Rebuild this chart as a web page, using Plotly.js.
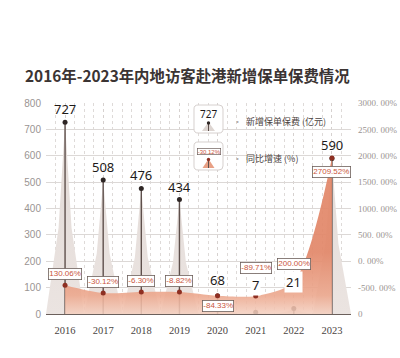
<!DOCTYPE html>
<html>
<head>
<meta charset="utf-8">
<script src="https://cdn.plot.ly/plotly-3.0.1.min.js"></script>
<style>html,body{margin:0;padding:0;background:#fff;}#chart{width:400px;height:358px;}</style>
</head>
<body>
<div id="chart"></div>
<script>
// ---- data ----
const years = [2016, 2017, 2018, 2019, 2020, 2021, 2022, 2023];
const premium = [727, 508, 476, 434, 68, 7, 21, 590];           // 新增保单保费 (亿元)
const growth = [130.06, -30.12, -6.30, -8.82, -84.33, -89.71, 200.00, 2709.52]; // 同比增速 (%)
const leftTicks = [0, 100, 200, 300, 400, 500, 600, 700, 800];
const rightTickVals = [-1000, -500, 0, 500, 1000, 1500, 2000, 2500, 3000];
const rightTickText = ['0', '-500. 00%', '0. 00%', '500. 00%', '1000. 00%', '1500. 00%', '2000. 00%', '2500. 00%', '3000. 00%'];
const titleText = '2016年-2023年内地访客赴港新增保单保费情况';
const legendPremium = '新增保单保费 (亿元)';
const legendGrowth = '同比增速 (%)';

// ---- layout geometry (styling) ----
const W = 400, H = 358;
const M = {l: 46, r: 49, t: 103, b: 44};
const y3Range = [-455, 3825];
const premShift = {2020: 16, 2021: 27, 2022: 26};
const growShift = {2020: -10, 2021: 28, 2022: 18, 2023: -14};
const whiteBgYears = [2021, 2022];

const pw = W - M.l - M.r, ph = H - M.t - M.b;
const X = px => (px - M.l) / pw;
const Y = py => (H - M.b - py) / ph;
const P = (px, py) => `${X(px).toFixed(4)},${Y(py).toFixed(4)}`;
function rrect(x0, y0, x1, y1, r) {
  return `M${P(x0 + r, y0)} L${P(x1 - r, y0)} Q${P(x1, y0)} ${P(x1, y0 + r)} L${P(x1, y1 - r)} Q${P(x1, y1)} ${P(x1 - r, y1)} L${P(x0 + r, y1)} Q${P(x0, y1)} ${P(x0, y1 - r)} L${P(x0, y0 + r)} Q${P(x0, y0)} ${P(x0 + r, y0)} Z`;
}

// spikes (concave triangles) built from data
const spX = [], spY = [];
years.forEach((yr, i) => {
  const v = premium[i];
  spX.push(yr - 0.5, yr - 0.17, yr, yr + 0.17, yr + 0.5, null);
  spY.push(0, v * 0.45, v, v * 0.45, 0, null);
});
const stX = [], stY = [];
years.forEach((yr, i) => { stX.push(yr, yr, null); stY.push(0, premium[i], null); });

const traces = [
  {type: 'scatter', mode: 'lines', x: spX, y: spY, fill: 'toself',
   fillcolor: '#e8e2df', line: {width: 0}, hoverinfo: 'skip', showlegend: false,
   fillgradient: {type: 'vertical', start: 0, stop: 760,
     colorscale: [[0, '#ebe4e1'], [1, '#e1d9d5']]}},
  {type: 'scatter', mode: 'lines', x: [years[0], years[years.length - 1]], y: [y3Range[0], y3Range[0]],
   yaxis: 'y3', line: {width: 0}, hoverinfo: 'skip', showlegend: false},
  {type: 'scatter', mode: 'lines', x: years, y: growth, yaxis: 'y3', fill: 'tonexty',
   line: {width: 0, shape: 'spline', smoothing: 0.8}, fillcolor: 'rgba(236,170,145,0.85)',
   hoverinfo: 'skip', showlegend: false,
   fillgradient: {type: 'vertical', start: y3Range[0], stop: 800,
     colorscale: [[0, 'rgba(244,208,192,0.86)'], [0.3, 'rgba(236,168,142,0.9)'], [1, 'rgba(226,136,106,0.93)']]}},
  {type: 'scatter', mode: 'lines', x: stX, y: stY, line: {color: '#5e504c', width: 1.4},
   hoverinfo: 'skip', showlegend: false},
  {type: 'scatter', mode: 'markers', x: years, y: premium, marker: {size: 5, color: '#2e2624'},
   showlegend: false},
  {type: 'scatter', mode: 'markers', x: years, y: growth, yaxis: 'y3', marker: {size: 5, color: '#8e2f22'},
   showlegend: false},
  {type: 'scatter', mode: 'markers', x: [years[0]], y: [null], yaxis: 'y2', showlegend: false, hoverinfo: 'skip'}
];

const annotations = [];
years.forEach((yr, i) => {
  annotations.push({x: yr, y: premium[i], xref: 'x', yref: 'y', text: String(premium[i]),
    showarrow: false, yshift: premShift[yr] !== undefined ? premShift[yr] : 13,
    font: {family: 'Noto Sans, Roboto, sans-serif', size: 13, color: '#1e1a19'},
    bgcolor: whiteBgYears.includes(yr) ? '#ffffff' : 'rgba(0,0,0,0)', borderpad: 1});
  annotations.push({x: yr, y: growth[i], xref: 'x', yref: 'y3', text: growth[i].toFixed(2) + '%',
    showarrow: false, yshift: growShift[yr] !== undefined ? growShift[yr] : 11,
    font: {family: 'Liberation Sans, Arial, sans-serif', size: 8, color: '#c9553d'},
    bgcolor: '#ffffff', bordercolor: '#6d5f5b', borderwidth: 0.8, borderpad: 0.5});
});
// legend texts
annotations.push({xref: 'paper', yref: 'paper', x: X(231), y: Y(121), xanchor: 'left', yanchor: 'middle',
  showarrow: false, text: '<span style="color:#b0a8a5">•</span>  ' + legendPremium,
  font: {family: 'Noto Sans CJK SC', size: 9, color: '#4a4240'}});
annotations.push({xref: 'paper', yref: 'paper', x: X(231), y: Y(158), xanchor: 'left', yanchor: 'middle',
  showarrow: false, text: '<span style="color:#b0a8a5">•</span>  ' + legendGrowth,
  font: {family: 'Noto Sans CJK SC', size: 9, color: '#4a4240'}});
annotations.push({xref: 'paper', yref: 'paper', x: X(208.5), y: Y(113.5), xanchor: 'center', yanchor: 'middle',
  showarrow: false, text: String(premium[0]),
  font: {family: 'Noto Sans, sans-serif', size: 10, color: '#1e1a19'}});
annotations.push({xref: 'paper', yref: 'paper', x: X(208.5), y: Y(151.5), xanchor: 'center', yanchor: 'middle',
  showarrow: false, text: growth[1].toFixed(2) + '%',
  font: {family: 'Liberation Sans, sans-serif', size: 6, color: '#c9553d'},
  bgcolor: '#fff', bordercolor: '#6d5f5b', borderwidth: 0.7, borderpad: 0});

const shapes = [
  {type: 'path', xref: 'paper', yref: 'paper', path: rrect(194, 105, 223, 133, 4), layer: 'above',
   fillcolor: '#ffffff', line: {color: '#d6d0ce', width: 1}},
  {type: 'path', xref: 'paper', yref: 'paper', path: rrect(194, 142, 223, 170, 4), layer: 'above',
   fillcolor: '#ffffff', line: {color: '#d6d0ce', width: 1}},
  {type: 'path', xref: 'paper', yref: 'paper', path: `M${P(202, 131)} L${P(208.5, 122)} L${P(215, 131)} Z`,
   layer: 'above', fillcolor: '#ddd5d1', line: {width: 0}},
  {type: 'line', xref: 'paper', yref: 'paper', x0: X(208.5), x1: X(208.5), y0: Y(123), y1: Y(131),
   layer: 'above', line: {color: '#5e504c', width: 1}},
  {type: 'circle', xref: 'paper', yref: 'paper', x0: X(206.8), x1: X(210.2), y0: Y(121.3), y1: Y(124.7),
   layer: 'above', fillcolor: '#2e2624', line: {width: 0}},
  {type: 'path', xref: 'paper', yref: 'paper', path: `M${P(202.5, 168)} L${P(208.5, 159)} L${P(214.5, 168)} Z`,
   layer: 'above', fillcolor: '#e8a085', line: {width: 0}},
  {type: 'line', xref: 'paper', yref: 'paper', x0: X(208.5), x1: X(208.5), y0: Y(160), y1: Y(168),
   layer: 'above', line: {color: '#5e504c', width: 1}},
  {type: 'circle', xref: 'paper', yref: 'paper', x0: X(206.8), x1: X(210.2), y0: Y(157.8), y1: Y(161.2),
   layer: 'above', fillcolor: '#8e2f22', line: {width: 0}}
];

const layout = {
  width: W, height: H, margin: M, paper_bgcolor: '#ffffff', plot_bgcolor: '#ffffff',
  showlegend: false, hovermode: false,
  title: {text: titleText, xref: 'container', yref: 'container', x: 25 / W, xanchor: 'left',
    y: 1 - 77 / H, yanchor: 'middle',
    font: {family: 'Noto Sans CJK SC', size: 15.4, color: '#3b3433', weight: 700}},
  xaxis: {range: [years[0] - 0.5, years[years.length - 1] + 0.5], tickvals: years, ticktext: years.map(String),
    showgrid: true, gridcolor: '#d6d1cf', griddash: 'dot', gridwidth: 1,
    minor: {tick0: years[0] - 0.5, dtick: 0.25, showgrid: true, gridcolor: '#dedad8', griddash: 'dot', gridwidth: 1},
    showline: true, linecolor: '#6b605c', linewidth: 1.2, ticks: '', zeroline: false,
    ticklabelstandoff: 6, tickfont: {family: 'Liberation Serif, serif', size: 10.5, color: '#4a4442'}},
  yaxis: {range: [0, 800], tickvals: leftTicks, showgrid: true, gridcolor: '#dcd8d6', gridwidth: 1,
    zeroline: false, showline: false, ticks: '', ticklabelstandoff: 4,
    tickfont: {family: 'Liberation Sans, Arial, sans-serif', size: 10, color: '#9a9492'}},
  yaxis2: {overlaying: 'y', side: 'right', range: [-1000, 3000], tickvals: rightTickVals, ticktext: rightTickText,
    showgrid: false, zeroline: false, showline: false, ticks: '', ticklabelstandoff: 6,
    tickfont: {family: 'Liberation Serif, serif', size: 9, color: '#9a9492'}},
  yaxis3: {overlaying: 'y', range: y3Range, visible: false},
  annotations: annotations, shapes: shapes
};

Plotly.newPlot('chart', traces, layout, {displayModeBar: false, staticPlot: true});
</script>
</body>
</html>
